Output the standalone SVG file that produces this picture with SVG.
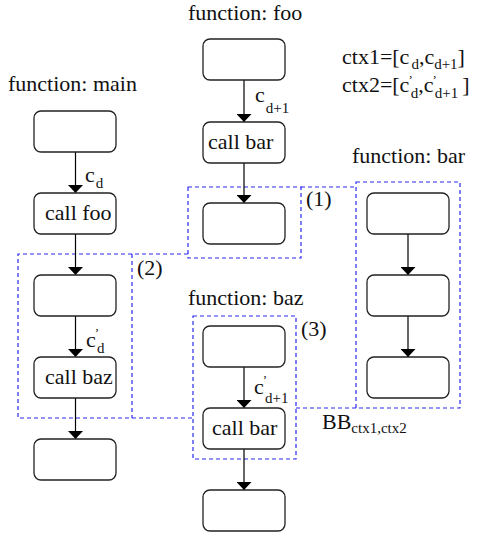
<svg xmlns="http://www.w3.org/2000/svg" width="478" height="533" viewBox="0 0 478 533">
<style>
.n{fill:#fff;stroke:#222;stroke-width:1.3}
.t{font-family:"Liberation Serif","Times New Roman",serif;font-size:22px;fill:#111}
.s{font-size:15px}
.p{font-size:13px}
.e{stroke:#000;stroke-width:1.2;fill:none;marker-end:url(#ah)}
.d{stroke:#2a2aee;stroke-width:1.2;fill:none;stroke-dasharray:4 3}
</style>
<defs>
<marker id="ah" viewBox="0 0 8 15" refX="8" refY="7.5" markerWidth="8" markerHeight="15" markerUnits="userSpaceOnUse" orient="auto">
<path d="M0,0 L8,7.5 L0,15 Z" fill="#000"/>
</marker>
</defs>
<rect width="478" height="533" fill="#fff"/>
<g id="boundaries">
<rect class="d" x="188" y="187" width="113" height="71"/>
<line class="d" x1="301" y1="187" x2="356" y2="187"/>
<path class="d" d="M188,254 L18,254 L18,418 L193,418 M132,254 L132,418"/>
<rect class="d" x="193" y="316" width="103" height="143"/>
<rect class="d" x="356" y="182" width="104" height="226"/>
<line class="d" x1="296" y1="408" x2="356" y2="408"/>
</g>
<g id="connectors">
<path class="e" d="M75.5,152 V193"/>
<path class="e" d="M75.5,234 V275"/>
<path class="e" d="M75.5,316 V357"/>
<path class="e" d="M75.5,398 V439"/>
<path class="e" d="M244,80 V122"/>
<path class="e" d="M244,163 V203"/>
<path class="e" d="M244,367 V408"/>
<path class="e" d="M244,449 V490"/>
<path class="e" d="M408,234 V275"/>
<path class="e" d="M408,316 V357"/>
</g>
<g id="main">
<text class="t" x="8" y="91">function: main</text>
<g id="main1"><rect class="n" x="34" y="111" width="82" height="41" rx="7"/></g>
<g id="main2"><rect class="n" x="34" y="193" width="82" height="41" rx="7"/><text class="t" x="45" y="220">call foo</text></g>
<g id="main3"><rect class="n" x="34" y="275" width="82" height="41" rx="7"/></g>
<g id="main4"><rect class="n" x="34" y="357" width="82" height="41" rx="7"/><text class="t" x="45" y="384">call baz</text></g>
<g id="main5"><rect class="n" x="34" y="439" width="82" height="41" rx="7"/></g>
</g>
<g id="foo">
<text class="t" x="188" y="20">function: foo</text>
<g id="foo1"><rect class="n" x="203" y="39" width="82" height="41" rx="7"/></g>
<g id="foo2"><rect class="n" x="203" y="122" width="82" height="41" rx="7"/><text class="t" x="208" y="149">call bar</text></g>
<g id="foo3"><rect class="n" x="203" y="203" width="82" height="41" rx="7"/></g>
</g>
<g id="baz">
<text class="t" x="188" y="305">function: baz</text>
<g id="baz1"><rect class="n" x="203" y="326" width="82" height="41" rx="7"/></g>
<g id="baz2"><rect class="n" x="203" y="408" width="82" height="41" rx="7"/><text class="t" x="212" y="435">call bar</text></g>
<g id="baz3"><rect class="n" x="203" y="490" width="82" height="41" rx="7"/></g>
</g>
<g id="bar">
<text class="t" x="352" y="163">function: bar</text>
<g id="bar1"><rect class="n" x="367" y="193" width="82" height="41" rx="7"/></g>
<g id="bar2"><rect class="n" x="367" y="275" width="82" height="41" rx="7"/></g>
<g id="bar3"><rect class="n" x="367" y="357" width="82" height="41" rx="7"/></g>
</g>
<g id="labels">
<text class="t" x="85" y="182">c<tspan class="s" dx="1" dy="6">d</tspan></text>
<text class="t" x="86" y="347">c<tspan class="p" dx="-1" dy="-10">’</tspan><tspan class="s" dx="-2" dy="16">d</tspan></text>
<text class="t" x="255" y="102">c<tspan class="s" dx="1" dy="11">d+1</tspan></text>
<text class="t" x="254" y="394">c<tspan class="p" dx="-1" dy="-10">’</tspan><tspan class="s" dx="-2" dy="19">d+1</tspan></text>
<text class="t" x="342" y="64">ctx1=[c<tspan class="s" dx="2" dy="5">d</tspan><tspan dy="-5">,c</tspan><tspan class="s" dy="5">d+1</tspan><tspan dy="-5">]</tspan></text>
<text class="t" x="342" y="92">ctx2=[c<tspan class="p" dx="-1" dy="-8">’</tspan><tspan class="s" dx="-2" dy="14">d</tspan><tspan dy="-6">,c</tspan><tspan class="p" dx="-1" dy="-8">’</tspan><tspan class="s" dx="-2" dy="14">d+1</tspan><tspan dx="4" dy="-6">]</tspan></text>
<text class="t" x="306" y="206">(1)</text>
<text class="t" x="137" y="275">(2)</text>
<text class="t" x="301" y="336">(3)</text>
<text class="t" x="322" y="429">BB<tspan class="s" dy="4">ctx1,ctx2</tspan></text>
</g>
</svg>
